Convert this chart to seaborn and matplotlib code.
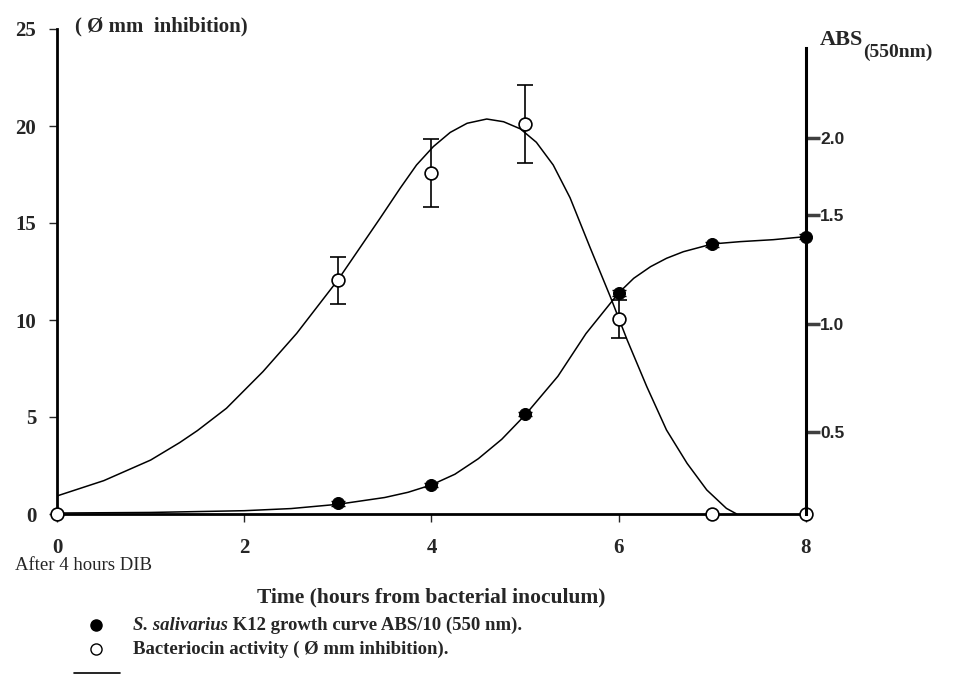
import numpy as np
import matplotlib
matplotlib.use("Agg")
import matplotlib.pyplot as plt
import seaborn as sns
from matplotlib.lines import Line2D

# measured points (hours from inoculum)
bact_x = [0, 3, 4, 5, 6, 7, 8]
bact_y = [0, 12.05, 17.6, 20.1, 10.05, 0, 0]
bact_err = [0, 1.2, 1.75, 2.0, 1.0, 0, 0]

growth_x = [3, 4, 5, 6, 7, 8]
growth_y = [0.55, 1.5, 5.15, 11.4, 13.9, 14.3]
growth_err = [0.12, 0.12, 0.12, 0.15, 0.12, 0.12]

# fitted curves
bact_curve_x = [0, 0.5, 1, 1.31, 1.5, 1.81, 2.2, 2.56, 3, 3.45, 3.665, 3.84, 4.02, 4.2, 4.38, 4.59,
                4.77, 4.95, 5.12, 5.3, 5.48, 5.69, 5.91, 6.09, 6.3, 6.51, 6.73, 6.94, 7.15, 7.26]
bact_curve_y = [0.93, 1.72, 2.78, 3.68, 4.3, 5.45, 7.34, 9.31, 12.06, 15.24, 16.79, 17.99, 18.94, 19.67, 20.14, 20.36,
                20.22, 19.85, 19.16, 17.99, 16.3, 13.78, 11.2, 8.97, 6.56, 4.33, 2.61, 1.24, 0.29, 0.0]

growth_curve_x = [0, 1, 2, 2.5, 3, 3.5, 3.75, 4, 4.25, 4.5, 4.75, 5, 5.35, 5.65, 6, 6.16, 6.34, 6.51,
                  6.69, 7, 7.3, 7.65, 8]
growth_curve_y = [0.05, 0.08, 0.17, 0.28, 0.5, 0.85, 1.12, 1.5, 2.05, 2.85, 3.85, 5.1, 7.1, 9.3, 11.4, 12.15,
                  12.75, 13.18, 13.52, 13.92, 14.04, 14.14, 14.3]

x_ticks = [0, 2, 4, 6, 8]
y_ticks = [0, 5, 10, 15, 20, 25]
# right axis labels and where they sit on the left scale
abs_labels = ["0.5", "1.0", "1.5", "2.0"]
abs_pos = [4.25, 9.8, 15.4, 19.4]

sns.set_style("white")
plt.rcParams['font.family'] = ['Liberation Serif', 'DejaVu Serif']

fig = plt.figure(figsize=(9.54, 6.96), dpi=100)
ax = fig.add_axes([57/954, 1-514/696, 749/954, 485/696])

sns.lineplot(x=bact_curve_x, y=bact_curve_y, ax=ax, color='black', lw=1.1, sort=False, estimator=None)
sns.lineplot(x=growth_curve_x, y=growth_curve_y, ax=ax, color='black', lw=1.1, sort=False, estimator=None)

# error bars only where there is a spread
bx = [x for x, e in zip(bact_x, bact_err) if e > 0]
by = [y for y, e in zip(bact_y, bact_err) if e > 0]
be = [e for e in bact_err if e > 0]
ax.errorbar(bx, by, yerr=be, fmt='none', ecolor='black', elinewidth=1.2, capsize=6, capthick=1.2, zorder=3)
ax.errorbar(growth_x, growth_y, yerr=growth_err, fmt='none', ecolor='black', elinewidth=1, capsize=5, capthick=1, zorder=3)

sns.scatterplot(x=growth_x, y=growth_y, ax=ax, color='black', s=75, edgecolor='black', zorder=4, clip_on=False)
sns.scatterplot(x=bact_x, y=bact_y, ax=ax, color='white', s=85, edgecolor='black', linewidth=1.2, zorder=5, clip_on=False)

ax.set_xlim(0, 8)
ax.set_ylim(0, 25)
ax.set_xticks(x_ticks)
ax.set_yticks(y_ticks)
for s in ['top', 'right']:
    ax.spines[s].set_visible(False)
for s in ['left', 'bottom']:
    ax.spines[s].set_linewidth(2)
    ax.spines[s].set_color('black')
ax.tick_params(axis='x', direction='out', length=6, width=1, pad=11, labelsize=15, bottom=True)
ax.tick_params(axis='y', direction='out', length=6, width=1, pad=9, labelsize=15, left=True)
for lbl in ax.get_xticklabels() + ax.get_yticklabels():
    lbl.set_fontweight('bold')

ax.set_xlabel("Time (hours from bacterial inoculum)", fontsize=15.5, fontweight='bold')
ax.xaxis.set_label_coords(0.5, -0.152)
ax.set_ylabel("")

ax.text(0.19, 25.15, "( Ø mm  inhibition)", fontsize=15, fontweight='bold', va='center', ha='left', clip_on=False)

# right axis (ABS)
ax2 = ax.twinx()
ax2.set_ylim(0, 25)
ax2.set_yticks(abs_pos)
ax2.set_yticklabels(abs_labels)
for s in ['top', 'left', 'bottom']:
    ax2.spines[s].set_visible(False)
ax2.spines['right'].set_linewidth(2.2)
ax2.spines['right'].set_color('black')
ax2.spines['right'].set_bounds(0, 24)
ax2.tick_params(axis='y', direction='out', length=10, width=2.5, color='#404040', pad=0, labelsize=12.5, right=True)
for lbl in ax2.get_yticklabels():
    lbl.set_fontweight('bold')
    lbl.set_fontfamily('Liberation Sans')
ax2.grid(False)
ax.grid(False)

t_abs = fig.text(820/954, 1-40/696, "ABS", fontsize=16, fontweight='bold', va='center', ha='left')
ax.annotate("(550nm)", xy=(1, 0), xycoords=t_abs, xytext=(0, -2), textcoords='offset points',
            va='center', ha='left', fontsize=14, fontweight='bold')

fig.text(15/954, 1-565/696, "After 4 hours DIB", fontsize=13.5, va='center', ha='left')

# legend block
fig.add_artist(Line2D([96/954], [1-625/696], marker='o', color='black', markersize=8, ls='none',
                      transform=fig.transFigure))
fig.add_artist(Line2D([96/954], [1-649/696], marker='o', color='black', markerfacecolor='white',
                      markersize=8, markeredgewidth=1, ls='none', transform=fig.transFigure))
t1 = fig.text(133/954, 1-625/696, "S. salivarius", fontsize=13.5, fontweight='bold', style='italic',
              va='center', ha='left')
ax.annotate(" K12 growth curve ABS/10 (550 nm).", xy=(1, 0.5), xycoords=t1, va='center', ha='left',
            fontsize=13.5, fontweight='bold')
fig.text(133/954, 1-649/696, "Bacteriocin activity ( Ø mm inhibition).", fontsize=13.5, fontweight='bold',
         va='center', ha='left')
fig.add_artist(Line2D([74/954, 120/954], [1-673/696, 1-673/696], color='black', lw=1.2,
                      transform=fig.transFigure))

fig.savefig("out.png", dpi=100)
